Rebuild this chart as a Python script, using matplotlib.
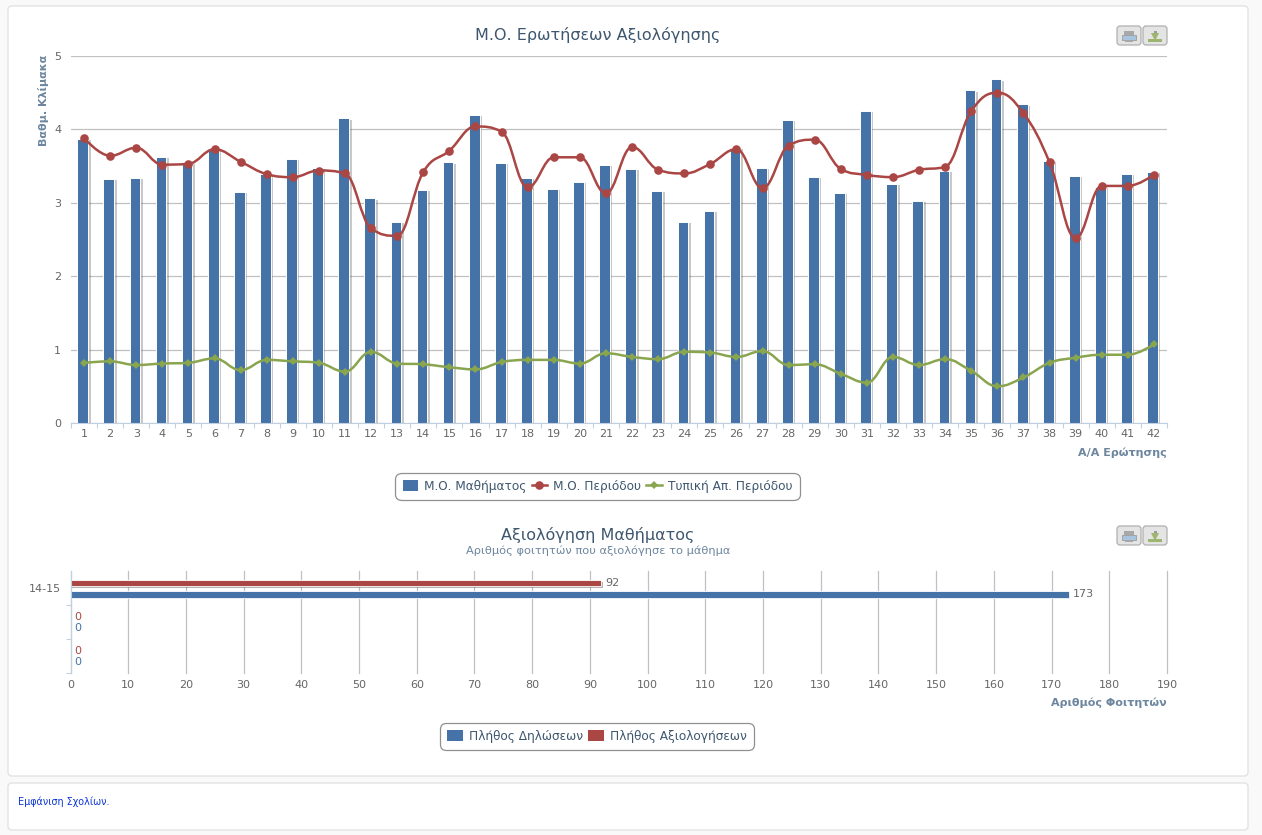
import matplotlib
matplotlib.use('Agg')
import matplotlib.pyplot as plt
import matplotlib.patheffects as pe
from matplotlib.lines import Line2D
from matplotlib.patches import FancyBboxPatch, Patch, PathPatch, Rectangle
from matplotlib.path import Path

plt.rcParams['font.family'] = ['DejaVu Sans']

# top chart
questions = list(range(1, 43))
course_avg = [3.87, 3.32, 3.34, 3.63, 3.55, 3.72, 3.15, 3.39, 3.60, 3.47, 4.15, 3.06, 2.74, 3.17,
              3.55, 4.20, 3.54, 3.34, 3.19, 3.28, 3.51, 3.46, 3.16, 2.74, 2.89, 3.75, 3.47, 4.13,
              3.35, 3.13, 4.25, 3.26, 3.03, 3.43, 4.53, 4.68, 4.34, 3.57, 3.37, 3.22, 3.39, 3.42]
period_avg = [3.88, 3.64, 3.75, 3.52, 3.53, 3.73, 3.56, 3.39, 3.35, 3.44, 3.40, 2.65, 2.55, 3.42,
              3.71, 4.04, 3.97, 3.21, 3.62, 3.62, 3.13, 3.76, 3.45, 3.40, 3.53, 3.73, 3.20, 3.78,
              3.86, 3.46, 3.38, 3.35, 3.45, 3.49, 4.25, 4.50, 4.22, 3.55, 2.52, 3.23, 3.23, 3.38]
period_std = [0.82, 0.84, 0.79, 0.81, 0.82, 0.88, 0.72, 0.86, 0.84, 0.82, 0.70, 0.97, 0.81, 0.80,
              0.76, 0.73, 0.83, 0.86, 0.86, 0.81, 0.95, 0.90, 0.87, 0.97, 0.96, 0.90, 0.98, 0.79,
              0.80, 0.67, 0.55, 0.90, 0.79, 0.87, 0.71, 0.50, 0.62, 0.82, 0.89, 0.93, 0.93, 1.07]

# bottom chart
years = ['14-15', '', '']
enrolled = [173, 0, 0]
evaluated = [92, 0, 0]

BLUE = '#4572A7'
RED = '#AA4643'
GREEN = '#89A54E'
GRID = '#C0C0C0'
AXIS = '#C0D0E0'
TITLE = '#3E576F'
LABEL = '#666666'
AXTITLE = '#6D869F'

W, H = 1262, 835


def to_axes(x0, y0, x1, y1):
    return [x0 / W, 1 - y1 / H, (x1 - x0) / W, (y1 - y0) / H]


def spline_path(xs, ys, smoothing=1.5):
    # same curve the original chart library draws through the points
    verts = [(xs[0], ys[0])]
    codes = [Path.MOVETO]
    prev_right = (xs[0], ys[0])
    n = len(xs)
    for i in range(1, n):
        x, y = xs[i], ys[i]
        if i < n - 1:
            d = smoothing + 1
            lx = (smoothing * x + xs[i - 1]) / d
            ly = (smoothing * y + ys[i - 1]) / d
            rx = (smoothing * x + xs[i + 1]) / d
            ry = (smoothing * y + ys[i + 1]) / d
            c = (ry - ly) * (rx - x) / (rx - lx) + y - ry
            ly += c
            ry += c
            if ly > ys[i - 1] and ly > y:
                ly = max(ys[i - 1], y)
                ry = 2 * y - ly
            elif ly < ys[i - 1] and ly < y:
                ly = min(ys[i - 1], y)
                ry = 2 * y - ly
            if ry > ys[i + 1] and ry > y:
                ry = max(ys[i + 1], y)
                ly = 2 * y - ry
            elif ry < ys[i + 1] and ry < y:
                ry = min(ys[i + 1], y)
                ly = 2 * y - ry
        else:
            lx, ly, rx, ry = x, y, x, y
        verts += [prev_right, (lx, ly), (x, y)]
        codes += [Path.CURVE4, Path.CURVE4, Path.CURVE4]
        prev_right = (rx, ry)
    return Path(verts, codes)


def draw_button(bg, x, y):
    bg.add_patch(FancyBboxPatch((x + 2, y + 2), 20, 15, boxstyle='round,pad=2,rounding_size=3',
                                fc='#E4E4E4', ec='#B0B0B0', lw=0.9))


def draw_buttons(bg, x, y):
    draw_button(bg, x, y)
    bg.add_patch(Rectangle((x + 7, y + 5), 10, 4, fc='#A8A8A8', ec='none'))
    bg.add_patch(Rectangle((x + 5, y + 9), 14, 5, fc='#A9C4DE', ec='#9A9A9A', lw=0.6))
    bg.add_patch(Rectangle((x + 8, y + 14), 8, 2, fc='#A8A8A8', ec='none'))
    draw_button(bg, x + 26, y)
    bg.add_patch(Rectangle((x + 31, y + 13), 14, 3, fc='#9DB56E', ec='none'))
    bg.add_patch(Rectangle((x + 36.5, y + 5), 3, 5, fc='#9A9A9A', ec='none'))
    bg.plot([x + 38], [y + 10.5], marker='v', ms=6, color='#9DB56E', mew=0)


def legend_at(ax, handles, cx, cy, gap):
    leg = ax.legend(handles=handles, loc='center', bbox_to_anchor=(cx / W, 1 - cy / H),
                    bbox_transform=ax.figure.transFigure, ncol=len(handles), fontsize=8.7,
                    frameon=True, fancybox=True, edgecolor='#909090', facecolor='white', framealpha=1,
                    handlelength=1.3, handleheight=1.0, handletextpad=0.5, columnspacing=gap,
                    borderpad=0.62, labelcolor=TITLE, borderaxespad=0)
    frame = leg.get_frame()
    frame.set_linewidth(0.9)
    frame.set_boxstyle('round,pad=0,rounding_size=0.55')
    return leg


fig = plt.figure(figsize=(W / 100, H / 100), dpi=100, facecolor='#F9F9F9')

# page panels and export buttons
bg = fig.add_axes([0, 0, 1, 1], zorder=0)
bg.set_xlim(0, W)
bg.set_ylim(H, 0)
bg.axis('off')
for (px, py, pw, ph) in [(8, 6, 1240, 770), (8, 783, 1240, 47)]:
    bg.add_patch(FancyBboxPatch((px + 3, py + 3), pw - 6, ph - 6, boxstyle='round,pad=3,rounding_size=4',
                                fc='white', ec='#E3E3E3', lw=1))
draw_buttons(bg, 1117, 26)
draw_buttons(bg, 1117, 526)

# --- top chart ---
ax = fig.add_axes(to_axes(71, 56, 1167, 423), zorder=2)
ax.patch.set_alpha(0)
ax.set_xlim(0.5, 42.5)
ax.set_ylim(0, 5)
ax.set_axisbelow(True)
ax.yaxis.grid(True, color=GRID, lw=0.9)
shadow = [pe.SimplePatchShadow(offset=(1.8, -0.8), shadow_rgbFace='#777777', alpha=0.4), pe.Normal()]
bars = ax.bar([q - 0.05 for q in questions], course_avg, width=0.41, color=BLUE, edgecolor='white', lw=0.7, zorder=2)
for b in bars:
    b.set_path_effects(shadow)
ax.add_patch(PathPatch(spline_path(questions, period_avg), fc='none', ec=RED, lw=1.8, zorder=3))
ax.plot(questions, period_avg, ls='none', marker='o', ms=6.2, color=RED, mew=0, zorder=4)
ax.add_patch(PathPatch(spline_path(questions, period_std), fc='none', ec=GREEN, lw=1.8, zorder=3))
ax.plot(questions, period_std, ls='none', marker='D', ms=4.2, color=GREEN, mew=0, zorder=4)

for s in ['top', 'right', 'left']:
    ax.spines[s].set_visible(False)
ax.spines['bottom'].set_color(AXIS)
ax.set_yticks(range(0, 6))
ax.tick_params(axis='y', length=0, pad=7, labelsize=8, labelcolor=LABEL)
ax.set_xticks(questions)
ax.set_xticks([q - 0.5 for q in questions] + [42.5], minor=True)
ax.tick_params(axis='x', which='major', length=0, pad=4.5, labelsize=8, labelcolor=LABEL)
ax.tick_params(axis='x', which='minor', length=3.6, width=0.8, color=AXIS)

fig.text(598 / W, 1 - 35 / H, 'Μ.Ο. Ερωτήσεων Αξιολόγησης', ha='center', va='center', fontsize=11.5, color=TITLE)
fig.text(43 / W, 1 - 55 / H, 'Βαθμ. Κλίμακα', rotation=90, ha='center', va='top', fontsize=8, fontweight='bold', color=AXTITLE)
fig.text(1167 / W, 1 - 453 / H, 'Α/Α Ερώτησης', ha='right', va='center', fontsize=8, fontweight='bold', color=AXTITLE)

legend_at(ax, [Patch(fc=BLUE, ec='none', label='Μ.Ο. Μαθήματος'),
               Line2D([], [], color=RED, lw=1.8, marker='o', ms=6.2, mew=0, label='Μ.Ο. Περιόδου'),
               Line2D([], [], color=GREEN, lw=1.8, marker='D', ms=4.2, mew=0, label='Τυπική Απ. Περιόδου')],
          597.5, 486.5, 0.4)

# --- bottom chart ---
ax2 = fig.add_axes(to_axes(70.5, 571, 1167, 673), zorder=2)
ax2.patch.set_alpha(0)
ax2.set_xlim(0, 190)
ax2.set_ylim(2.5, -0.5)
ax2.set_axisbelow(True)
ax2.xaxis.grid(True, color=GRID, lw=0.9, clip_on=False)
pos = list(range(len(years)))
blue_bars = ax2.barh([p + 0.19 for p in pos], enrolled, height=0.19, color=BLUE, edgecolor='white', lw=0.6, zorder=2)
red_bars = ax2.barh([p - 0.14 for p in pos], evaluated, height=0.19, color=RED, edgecolor='white', lw=0.6, zorder=2)
shadow2 = [pe.SimplePatchShadow(offset=(0.8, -1.2), shadow_rgbFace='#666666', alpha=0.5), pe.Normal()]
for b, v in zip(list(blue_bars) + list(red_bars), enrolled + evaluated):
    if v > 0:
        b.set_path_effects(shadow2)
for p, v, c in zip(pos, enrolled, [LABEL, BLUE, BLUE]):
    ax2.annotate(str(v), (v, p + 0.19), xytext=(3, 0), textcoords='offset points', va='center', fontsize=8, color=c)
for p, v, c in zip(pos, evaluated, [LABEL, RED, RED]):
    ax2.annotate(str(v), (v, p - 0.14), xytext=(3, 0), textcoords='offset points', va='center', fontsize=8, color=c)

for s in ['top', 'right', 'bottom']:
    ax2.spines[s].set_visible(False)
ax2.spines['left'].set_color(AXIS)
ax2.set_xticks(range(0, 200, 10))
ax2.tick_params(axis='x', length=0, pad=5, labelsize=8, labelcolor=LABEL)
ax2.set_yticks(pos)
ax2.set_yticklabels(years)
ax2.set_yticks([0.5, 1.5, 2.5], minor=True)
ax2.tick_params(axis='y', which='major', length=0, pad=7, labelsize=8, labelcolor=LABEL)
ax2.tick_params(axis='y', which='minor', length=3.6, width=0.8, color=AXIS)

fig.text(598 / W, 1 - 535 / H, 'Αξιολόγηση Μαθήματος', ha='center', va='center', fontsize=11.5, color=TITLE)
fig.text(598 / W, 1 - 551 / H, 'Αριθμός φοιτητών που αξιολόγησε το μάθημα', ha='center', va='center', fontsize=8.2, color=AXTITLE)
fig.text(1167 / W, 1 - 703 / H, 'Αριθμός Φοιτητών', ha='right', va='center', fontsize=8, fontweight='bold', color=AXTITLE)

legend_at(ax2, [Patch(fc=BLUE, ec='none', label='Πλήθος Δηλώσεων'),
                Patch(fc=RED, ec='none', label='Πλήθος Αξιολογήσεων')],
          597, 736.5, 0.4)

fig.text(18 / W, 1 - 802 / H, 'Εμφάνιση Σχολίων.', ha='left', va='center', fontsize=6.9, color='#0a35d8')

fig.savefig('out.png', dpi=100, facecolor=fig.get_facecolor())
